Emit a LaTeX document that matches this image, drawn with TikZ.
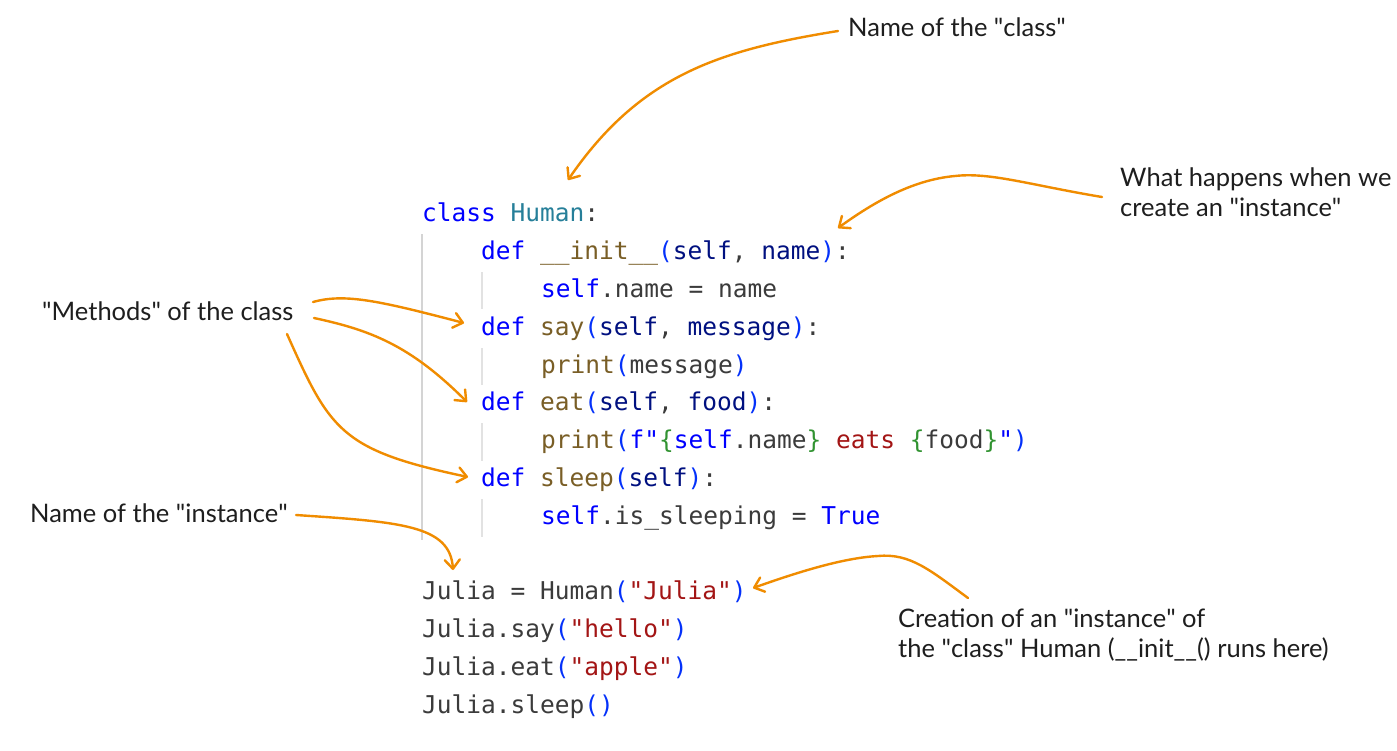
\documentclass[tikz,border=0pt]{standalone}
\usepackage{fontspec}
\setmainfont{Lato}
\setmonofont{DejaVu Sans Mono}
\usetikzlibrary{arrows.meta}
\definecolor{kw}{HTML}{0000FF}
\definecolor{fn}{HTML}{795E26}
\definecolor{cls}{HTML}{267F99}
\definecolor{par}{HTML}{001080}
\definecolor{str}{HTML}{A31515}
\definecolor{bra}{HTML}{0431FA}
\definecolor{brb}{HTML}{319331}
\definecolor{dft}{HTML}{3B3B3B}
\definecolor{ink}{HTML}{1E1E1E}
\definecolor{orng}{HTML}{F08C00}
\definecolor{guide}{HTML}{D4D4D4}
\definecolor{guidein}{HTML}{E2E2E2}
\newcommand{\ckw}[1]{\textcolor{kw}{#1}}
\newcommand{\cfn}[1]{\textcolor{fn}{#1}}
\newcommand{\cpar}[1]{\textcolor{par}{#1}}
\newcommand{\cstr}[1]{\textcolor{str}{#1}}
\newcommand{\cbra}[1]{\textcolor{bra}{#1}}
\newcommand{\cbrb}[1]{\textcolor{brb}{#1}}
\tikzset{
  codeline/.style={anchor=base west, inner sep=0pt, font=\ttfamily\fontsize{24.5}{29}\selectfont, text=dft},
  note/.style={anchor=west, inner sep=0pt, align=left, text=ink, font=\fontsize{25.5}{30}\selectfont},
  pointer/.style={draw=orng, line width=2.4pt, line cap=round, line join=round,
    -{Straight Barb[length=9pt,width=15pt,line cap=round,line join=round]}},
  outerguide/.style={draw=guide, line width=2pt},
  innerguide/.style={draw=guidein, line width=1.6pt}
}
\begin{document}
\begin{tikzpicture}[x=1pt,y=-1pt]
\useasboundingbox[fill=white] (0,0) rectangle (1397,750);

% guides
\draw[outerguide] (422,234) -- (422,540);
\draw[innerguide] (482,272) -- (482,309);
\draw[innerguide] (482,348) -- (482,385);
\draw[innerguide] (482,423) -- (482,461);
\draw[innerguide] (482,499) -- (482,537);

% code
\node[codeline] (c0) at (422,221) {\ckw{class} \textcolor{cls}{Human}:};
\node[codeline] (c1) at (481,259) {\ckw{def} \cfn{\_\_init\_\_}\cbra{(}\cpar{self}, \cpar{name}\cbra{)}:};
\node[codeline] (c2) at (541,297) {\ckw{self}.name = name};
\node[codeline] (c3) at (481,335) {\ckw{def} \cfn{say}\cbra{(}\cpar{self}, \cpar{message}\cbra{)}:};
\node[codeline] (c4) at (541,373) {\cfn{print}\cbra{(}message\cbra{)}};
\node[codeline] (c5) at (481,410) {\ckw{def} \cfn{eat}\cbra{(}\cpar{self}, \cpar{food}\cbra{)}:};
\node[codeline] (c6) at (541,448) {\cfn{print}\cbra{(}\ckw{f"}\cbrb{\{}\ckw{self}.name\cbrb{\}}\cstr{\ eats\ }\cbrb{\{}food\cbrb{\}}\ckw{"}\cbra{)}};
\node[codeline] (c7) at (481,486) {\ckw{def} \cfn{sleep}\cbra{(}\cpar{self}\cbra{)}:};
\node[codeline] (c8) at (541,524) {\ckw{self}.is\_sleeping = \ckw{True}};
\node[codeline] (c10) at (422,599) {Julia = Human\cbra{(}\cstr{"Julia"}\cbra{)}};
\node[codeline] (c11) at (422,637) {Julia.say\cbra{(}\cstr{"hello"}\cbra{)}};
\node[codeline] (c12) at (422,675) {Julia.eat\cbra{(}\cstr{"apple"}\cbra{)}};
\node[codeline] (c13) at (422,713) {Julia.sleep\cbra{()}};

% notes
\node[note] (a1) at (848,27) {Name of the \textquotedbl class\textquotedbl};
\node[note] (a2) at (1120,192) {What happens when we\\create an \textquotedbl instance\textquotedbl};
\node[note] (a3) at (42,311) {\textquotedbl Methods\textquotedbl{} of the class};
\node[note] (a4) at (30,513) {Name of the \textquotedbl instance\textquotedbl};
\node[note] (a5) at (898,635) {Creation of an \textquotedbl instance\textquotedbl{} of\\the \textquotedbl class\textquotedbl{} Human (\_\_init\_\_() runs here)};

% arrow ends
\coordinate (s1) at (838,31);   \coordinate (t1) at (568,180);
\coordinate (s2) at (1102,197); \coordinate (t2) at (838,228);
\coordinate (s3) at (313,302);  \coordinate (t3) at (464,323);
\coordinate (s4) at (314,318);  \coordinate (t4) at (467,402);
\coordinate (s5) at (287,334);  \coordinate (t5) at (468,477);
\coordinate (s6) at (296,515);  \coordinate (t6) at (453,570);
\coordinate (s7) at (968,598);  \coordinate (t7) at (753,588);

\draw[pointer] (s1) .. controls (720,50) and (640,75) .. (t1);
\draw[pointer] (s2) .. controls (1030,185) and (990,172) .. (955,176) .. controls (910,180) and (870,205) .. (t2);
\draw[pointer] (s3) .. controls (345,293) and (380,301) .. (t3);
\draw[pointer] (s4) .. controls (370,330) and (410,345) .. (t4);
\draw[pointer] (s5) .. controls (330,430) and (340,450) .. (t5);
\draw[pointer] (s6) .. controls (400,522) and (450,525) .. (t6);
\draw[pointer] (s7) .. controls (930,570) and (910,553) .. (878,556) .. controls (840,558) and (790,575) .. (t7);
\end{tikzpicture}
\end{document}
